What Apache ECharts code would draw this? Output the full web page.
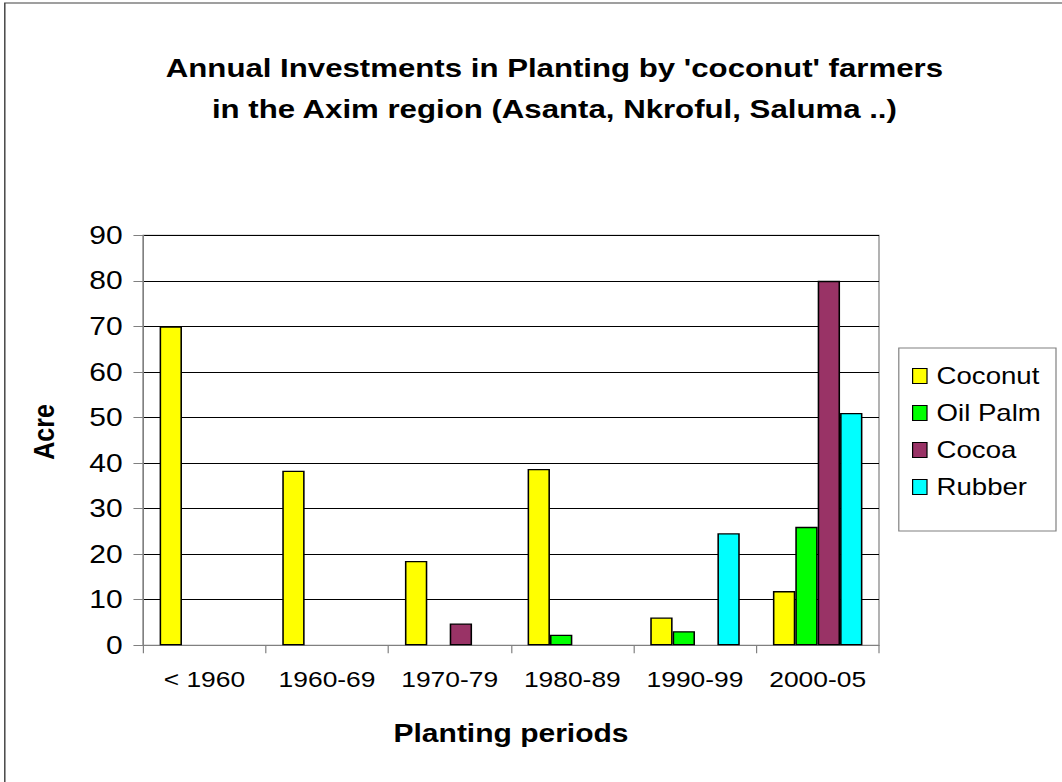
<!DOCTYPE html>
<html>
<head>
<meta charset="utf-8">
<script src="https://cdn.jsdelivr.net/npm/echarts@6/dist/echarts.min.js"></script>
<style>
  html, body { margin: 0; padding: 0; background: #fff; }
  #wrap { width: 1062px; height: 782px; overflow: hidden; position: relative; }
  #chart { width: 885px; height: 782px; transform: scaleX(1.2); transform-origin: 0 0; }
</style>
</head>
<body>
<div id="wrap"><div id="chart"></div></div>
<script>
// ---- data ----
const categories = ['< 1960', '1960-69', '1970-79', '1980-89', '1990-99', '2000-05'];
const coconut = [70, 38.3, 18.5, 38.7, 6.1, 11.9];
const oilPalm = [0, 0, 0, 2.3, 3.1, 26];
const cocoa   = [0, 0, 4.8, 0, 0, 80];
const rubber  = [0, 0, 0, 0, 24.6, 51];
const seriesNames = ['Coconut', 'Oil Palm', 'Cocoa', 'Rubber'];
const yMin = 0, yMax = 90, yStep = 10;
const titleLines = ["Annual Investments in Planting by 'coconut' farmers", "in the Axim region (Asanta, Nkroful, Saluma ..)"];
const xAxisName = 'Planting periods';
const yAxisName = 'Acre';

// ---- presentation ----
const FONT = "'Liberation Sans', Arial, sans-serif";
const colors = ['#FFFF00', '#00FF00', '#993366', '#00FFFF'];
const seriesData = [coconut, oilPalm, cocoa, rubber];

const chart = echarts.init(document.getElementById('chart'), null, { renderer: 'svg' });
chart.setOption({
  animation: false,
  backgroundColor: '#fff',
  title: {
    text: titleLines.join('\n'),
    left: 457, top: 42, textAlign: 'center',
    textStyle: { fontFamily: FONT, fontSize: 26, fontWeight: 'bold', color: '#000', lineHeight: 41 }
  },
  grid: {
    left: 119.2, right: 152.5, top: 235.3, bottom: 136.7,
    show: true, borderColor: '#808080', borderWidth: 1, backgroundColor: 'transparent'
  },
  legend: {
    orient: 'vertical', left: 755, top: 359,
    itemWidth: 12, itemHeight: 15, itemGap: 13,
    icon: 'rect',
    data: seriesNames,
    itemStyle: { borderColor: '#000', borderWidth: 1 },
    textStyle: { fontFamily: FONT, fontSize: 23, color: '#000', lineHeight: 24, padding: [0, 0, 0, 3] }
  },
  xAxis: {
    type: 'category', data: categories,
    name: xAxisName, nameLocation: 'middle', nameGap: 76,
    nameTextStyle: { fontFamily: FONT, fontSize: 25, fontWeight: 'bold', color: '#000' },
    axisLine: { lineStyle: { color: '#808080', width: 1 } },
    axisTick: { show: true, length: 8, interval: 0, lineStyle: { color: '#808080' } },
    axisLabel: { fontFamily: FONT, fontSize: 22, color: '#000', margin: 23, interval: 0 },
    splitLine: { show: false }
  },
  yAxis: {
    type: 'value', min: yMin, max: yMax, interval: yStep,
    axisLine: { show: true, lineStyle: { color: '#808080', width: 1 } },
    axisTick: { show: true, length: 8, lineStyle: { color: '#808080' } },
    axisLabel: { fontFamily: FONT, fontSize: 25, color: '#000', margin: 17 },
    splitLine: { show: true, lineStyle: { color: '#000', width: 1 } }
  },
  graphic: [
    { type: 'rect', shape: { x: 4, y: 3, width: 2000, height: 2000 }, style: { fill: 'none', stroke: '#404040', lineWidth: 1.2 }, silent: true, z: 100 },
    { type: 'rect', shape: { x: 749, y: 348, width: 131, height: 183 }, style: { fill: 'none', stroke: '#808080', lineWidth: 1 }, silent: true, z: 100 },
    { type: 'text', x: 36.7, y: 432, rotation: Math.PI / 2,
      style: { text: yAxisName, fontFamily: FONT, fontSize: 25, fontWeight: 'bold', fill: '#000', align: 'center', verticalAlign: 'middle' } }
  ],
  series: seriesNames.map((name, i) => ({
    name, type: 'bar',
    // zero values are not drawn (as in the reference)
    data: seriesData[i].map(v => (v === 0 ? null : v)),
    barGap: '0%', barCategoryGap: '27%',
    itemStyle: { color: colors[i], borderColor: '#000', borderWidth: 1.3 }
  }))
});
</script>
</body>
</html>
